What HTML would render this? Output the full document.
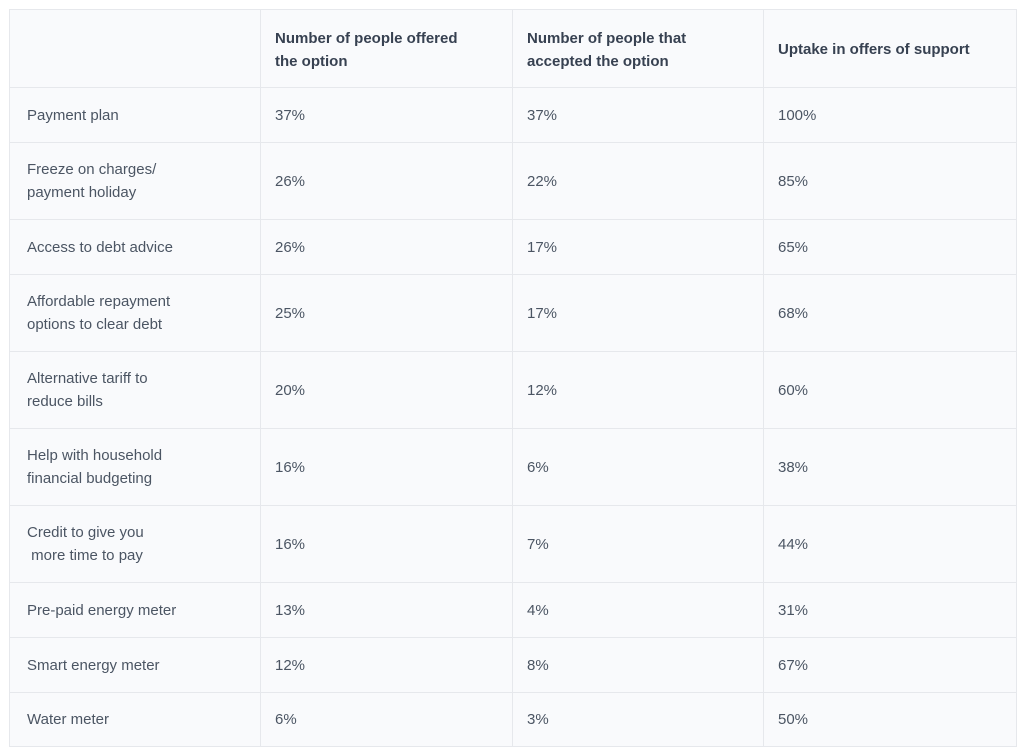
<!DOCTYPE html>
<html><head><meta charset="utf-8"><style>
body{margin:0;background:#fff;width:1024px;height:754px;overflow:hidden;font-family:"Liberation Sans",sans-serif;}
table{position:absolute;left:9px;top:9px;border-collapse:collapse;background:#f9fafc;table-layout:fixed;width:1007px;}
td,th{border:1px solid #e6e8ec;font-size:15px;line-height:23px;color:#4b5563;text-align:left;vertical-align:middle;padding:0 14px;font-weight:normal;}
td:first-child,th:first-child{padding-left:17px;}
th{font-weight:bold;color:#374151;padding-top:2px;}
</style></head><body>
<table>
<colgroup><col style="width:251px"><col style="width:252px"><col style="width:251px"><col style="width:253px"></colgroup>
<tr style="height:78px"><th></th><th>Number of people offered<br>the option</th><th>Number of people that<br>accepted the option</th><th>Uptake in offers of support</th></tr>
<tr style="height:55px"><td>Payment plan</td><td>37%</td><td>37%</td><td>100%</td></tr>
<tr style="height:77px"><td>Freeze on charges/<br>payment holiday</td><td>26%</td><td>22%</td><td>85%</td></tr>
<tr style="height:55px"><td>Access to debt advice</td><td>26%</td><td>17%</td><td>65%</td></tr>
<tr style="height:77px"><td>Affordable repayment<br>options to clear debt</td><td>25%</td><td>17%</td><td>68%</td></tr>
<tr style="height:77px"><td>Alternative tariff to<br>reduce bills</td><td>20%</td><td>12%</td><td>60%</td></tr>
<tr style="height:77px"><td>Help with household<br>financial budgeting</td><td>16%</td><td>6%</td><td>38%</td></tr>
<tr style="height:77px"><td>Credit to give you<br>&nbsp;more time to pay</td><td>16%</td><td>7%</td><td>44%</td></tr>
<tr style="height:55px"><td>Pre-paid energy meter</td><td>13%</td><td>4%</td><td>31%</td></tr>
<tr style="height:55px"><td>Smart energy meter</td><td>12%</td><td>8%</td><td>67%</td></tr>
<tr style="height:54px"><td>Water meter</td><td>6%</td><td>3%</td><td>50%</td></tr>
</table>
</body></html>
